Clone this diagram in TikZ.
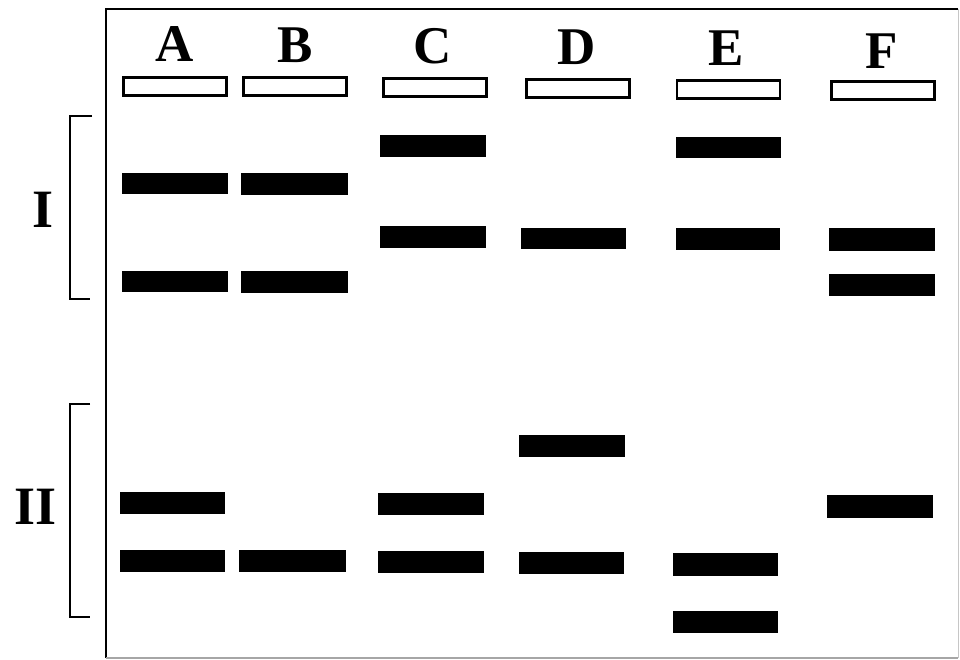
\documentclass[tikz,border=0pt]{standalone}
\usepackage{fontspec}
\setmainfont{Liberation Serif}
\begin{document}
\begin{tikzpicture}[x=1pt,y=-1pt,
  band/.style={fill=black,draw=none,inner sep=0pt,rectangle},
  well/.style={fill=white,draw=black,line width=2.6pt,inner sep=0pt,rectangle,minimum width=103pt,minimum height=18pt},
  lane/.style={font=\bfseries\fontsize{53}{53}\selectfont,anchor=base,inner sep=0pt},
  grp/.style={font=\bfseries\fontsize{54}{54}\selectfont,inner sep=0pt},
  brk/.style={line width=2.2pt}]
\useasboundingbox (0,0) rectangle (960,660);
% frame
\draw[line width=2.2pt] (106,658) -- (106,9) -- (958,9);
\draw[gray!45,line width=1pt] (958,9) -- (958,658);
\draw[gray!70,line width=1.5pt] (106,658) -- (958,658);
% lane labels
\node[lane] (lA) at (175,62) {A};
\node[lane] (lB) at (295,63) {B};
\node[lane] (lC) at (433,64) {C};
\node[lane] (lD) at (577,65) {D};
\node[lane] (lE) at (726,66) {E};
\node[lane] (lF) at (882,69) {F};
% wells
\node[well] (wA) at (175,86.5) {};
\node[well] (wB) at (295,86.5) {};
\node[well] (wC) at (435,87.5) {};
\node[well] (wD) at (578,88.5) {};
\node[well] (wE) at (728.5,89.5) {};
\node[well] (wF) at (883,90.5) {};
% bands
\newcommand{\bnd}[5]{\node[band,minimum width={#3-#2},minimum height={#5-#4}] (#1) at ({(#2+#3)/2},{(#4+#5)/2}) {};}
\bnd{A1}{122}{228}{173}{194}
\bnd{A2}{122}{228}{271}{292}
\bnd{A3}{120}{225}{492}{514}
\bnd{A4}{120}{225}{550}{572}
\bnd{B1}{241}{348}{173}{195}
\bnd{B2}{241}{348}{271}{293}
\bnd{B3}{239}{346}{550}{572}
\bnd{C1}{380}{486}{135}{157}
\bnd{C2}{380}{486}{226}{248}
\bnd{C3}{378}{484}{493}{515}
\bnd{C4}{378}{484}{551}{573}
\bnd{D1}{521}{626}{228}{249}
\bnd{D2}{519}{625}{435}{457}
\bnd{D3}{519}{624}{552}{574}
\bnd{E1}{676}{781}{137}{158}
\bnd{E2}{676}{780}{228}{250}
\bnd{E3}{673}{778}{553}{576}
\bnd{E4}{673}{778}{611}{633}
\bnd{F1}{829}{935}{228}{251}
\bnd{F2}{829}{935}{274}{296}
\bnd{F3}{827}{933}{495}{518}
% brackets
\coordinate (i1) at (92,116);
\coordinate (i2) at (90,299);
\coordinate (j1) at (90,404);
\coordinate (j2) at (90,617);
\draw[brk] (i1) -- (70,116) -- (70,299) -- (i2);
\draw[brk] (j1) -- (70,404) -- (70,617) -- (j2);
\node[grp] (gI) at (43,210) {I};
\node[grp] (gII) at (36,507) {II};
\end{tikzpicture}
\end{document}
